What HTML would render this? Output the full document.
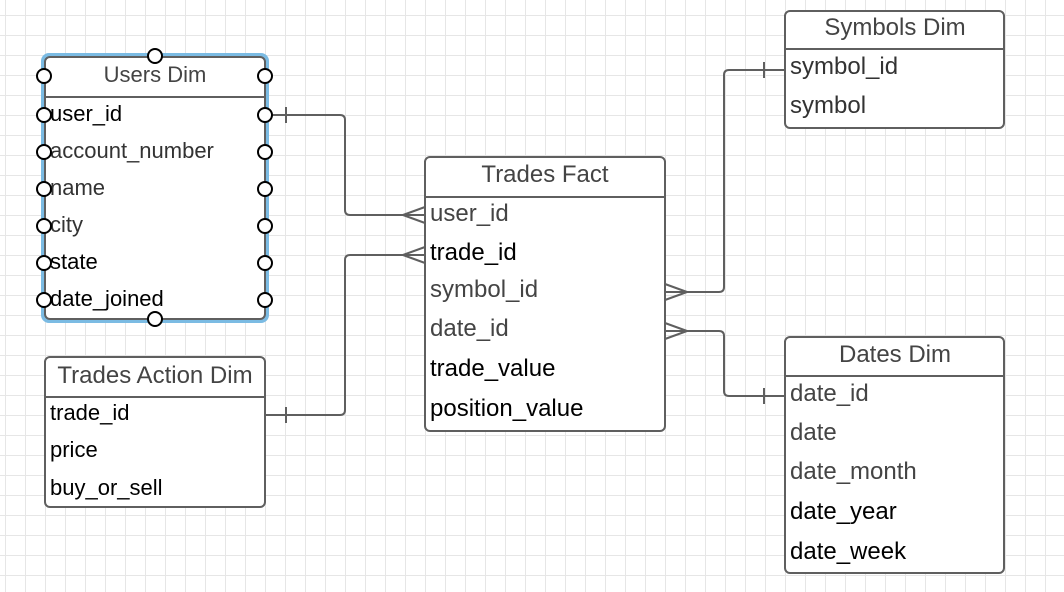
<!DOCTYPE html>
<html><head><meta charset="utf-8"><style>
html,body{margin:0;padding:0;background:#fff}
svg{display:block}
text{font-family:"Liberation Sans",sans-serif}
</style></head><body>
<svg width="1064" height="592" viewBox="0 0 1064 592" xmlns="http://www.w3.org/2000/svg">
<defs>
<pattern id="g" x="5" y="15" width="20" height="20" patternUnits="userSpaceOnUse">
<path d="M0 0.5H20M0.5 0V20" stroke="#e6e6e6" stroke-width="1" fill="none"/>
</pattern>
</defs>
<rect width="1064" height="592" fill="#fff"/>
<rect width="1064" height="592" fill="url(#g)"/>

<g fill="none" stroke="#5f5f5f" stroke-width="2">
<path d="M266 115H340Q345 115 345 120V210Q345 215 350 215H425"/>
<path d="M286 107V123"/>
<path d="M403 215L425 207M403 215L425 223"/>
<path d="M265 415H340Q345 415 345 410V260Q345 255 350 255H425"/>
<path d="M286 407V423"/>
<path d="M403 255L425 247M403 255L425 263"/>
<path d="M665 292H719Q724 292 724 287V75Q724 70 729 70H785"/>
<path d="M687 292L665 284M687 292L665 300"/>
<path d="M764 62V78"/>
<path d="M665 331H719Q724 331 724 336V391Q724 396 729 396H785"/>
<path d="M687 331L665 323M687 331L665 339"/>
<path d="M764 388V404"/>
</g>

<rect x="43" y="55" width="224" height="266" rx="6" fill="#fff" stroke="#7bbbe3" stroke-width="4"/>
<rect x="45" y="57" width="220" height="262" rx="5" fill="#fff" stroke="#5f5f5f" stroke-width="2"/>
<line x1="45" y1="97" x2="265" y2="97" stroke="#5f5f5f" stroke-width="2"/>
<text x="155" y="82" font-size="22" fill="#444" text-anchor="middle">Users Dim</text>
<g font-size="22">
<text x="50" y="121" fill="#000">user_id</text>
<text x="50" y="158" fill="#333">account_number</text>
<text x="50" y="195" fill="#333">name</text>
<text x="50" y="232" fill="#333">city</text>
<text x="50" y="269" fill="#000">state</text>
<text x="50" y="306" fill="#000">date_joined</text>
</g>
<g fill="#fff" stroke="#000" stroke-width="2">
<circle cx="155" cy="56" r="7"/><circle cx="155" cy="319" r="7"/>
<circle cx="44" cy="76" r="7"/><circle cx="265" cy="76" r="7"/>
<circle cx="44" cy="115" r="7"/><circle cx="265" cy="115" r="7"/>
<circle cx="44" cy="152" r="7"/><circle cx="265" cy="152" r="7"/>
<circle cx="44" cy="189" r="7"/><circle cx="265" cy="189" r="7"/>
<circle cx="44" cy="226" r="7"/><circle cx="265" cy="226" r="7"/>
<circle cx="44" cy="263" r="7"/><circle cx="265" cy="263" r="7"/>
<circle cx="44" cy="300" r="7"/><circle cx="265" cy="300" r="7"/>
</g>

<rect x="45" y="357" width="220" height="150" rx="5" fill="#fff" stroke="#5f5f5f" stroke-width="2"/>
<line x1="45" y1="397" x2="265" y2="397" stroke="#5f5f5f" stroke-width="2"/>
<text x="155" y="383" font-size="24" fill="#444" text-anchor="middle">Trades Action Dim</text>
<g font-size="22" fill="#000">
<text x="50" y="420">trade_id</text>
<text x="50" y="457">price</text>
<text x="50" y="495">buy_or_sell</text>
</g>

<rect x="425" y="157" width="240" height="274" rx="5" fill="#fff" stroke="#5f5f5f" stroke-width="2"/>
<line x1="425" y1="197" x2="665" y2="197" stroke="#5f5f5f" stroke-width="2"/>
<text x="545" y="182" font-size="24" fill="#444" text-anchor="middle">Trades Fact</text>
<g font-size="24">
<text x="430" y="221" fill="#444">user_id</text>
<text x="430" y="260" fill="#000">trade_id</text>
<text x="430" y="297" fill="#444">symbol_id</text>
<text x="430" y="336" fill="#444">date_id</text>
<text x="430" y="376" fill="#000">trade_value</text>
<text x="430" y="416" fill="#000">position_value</text>
</g>

<rect x="785" y="11" width="219" height="117" rx="5" fill="#fff" stroke="#5f5f5f" stroke-width="2"/>
<line x1="785" y1="49" x2="1004" y2="49" stroke="#5f5f5f" stroke-width="2"/>
<text x="895" y="35" font-size="24" fill="#444" text-anchor="middle">Symbols Dim</text>
<g font-size="24" fill="#333">
<text x="790" y="74">symbol_id</text>
<text x="790" y="113">symbol</text>
</g>

<rect x="785" y="337" width="219" height="236" rx="5" fill="#fff" stroke="#5f5f5f" stroke-width="2"/>
<line x1="785" y1="376" x2="1004" y2="376" stroke="#5f5f5f" stroke-width="2"/>
<text x="895" y="362" font-size="24" fill="#444" text-anchor="middle">Dates Dim</text>
<g font-size="24">
<text x="790" y="401" fill="#444">date_id</text>
<text x="790" y="440" fill="#444">date</text>
<text x="790" y="479" fill="#444">date_month</text>
<text x="790" y="519" fill="#000">date_year</text>
<text x="790" y="559" fill="#000">date_week</text>
</g>
</svg>
</body></html>
